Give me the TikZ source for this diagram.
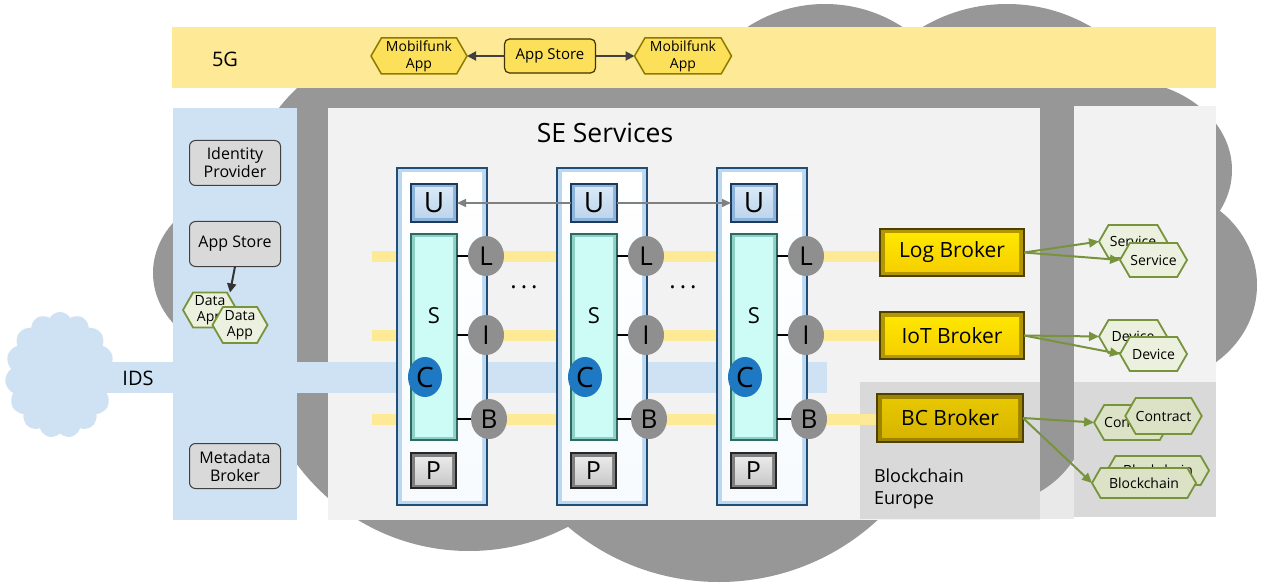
\documentclass[tikz,border=0pt]{standalone}
\usepackage{fontspec}
\setmainfont{Open Sans}
\usetikzlibrary{shapes.geometric,shapes.symbols,arrows.meta}
\definecolor{bandy}{HTML}{FDE996}
\definecolor{ltblue}{HTML}{CFE2F3}
\definecolor{cloudgray}{HTML}{979797}
\definecolor{panel}{HTML}{F2F2F2}
\definecolor{bcgray}{HTML}{D9D9D9}
\definecolor{stripgray}{HTML}{E9E9E9}
\definecolor{hexfill}{HTML}{EBF1DE}
\definecolor{hexfilldk}{HTML}{DCE2C6}
\definecolor{olive}{HTML}{77933C}
\definecolor{gold}{HTML}{FCE05A}
\definecolor{golddk}{HTML}{8C7B00}
\definecolor{boxgray}{HTML}{D9D9D9}
\definecolor{navy}{HTML}{1F4E79}
\definecolor{colout}{HTML}{BDD7EE}
\definecolor{colin}{HTML}{F7FBFE}
\definecolor{uout}{HTML}{8DB4DA}
\definecolor{utop}{HTML}{DCEAF7}
\definecolor{ubot}{HTML}{B9D3EC}
\definecolor{unavy}{HTML}{1B3A5C}
\definecolor{cgreen}{HTML}{2E6B62}
\definecolor{sout}{HTML}{8FD0C6}
\definecolor{cyanfill}{HTML}{CDFBF5}
\definecolor{cblue}{HTML}{1E78C2}
\definecolor{circgray}{HTML}{8F8F8F}
\definecolor{pout}{HTML}{7F7F7F}
\definecolor{ptop}{HTML}{EFEFEF}
\definecolor{pbot}{HTML}{C4C4C4}
\definecolor{brout}{HTML}{B39700}
\definecolor{brtop}{HTML}{FFEA00}
\definecolor{brbot}{HTML}{F5CC00}
\definecolor{bcout}{HTML}{9C8300}
\definecolor{bctop}{HTML}{E9CA00}
\definecolor{bcbot}{HTML}{D6B200}
\definecolor{brdraw}{HTML}{4D4000}
\definecolor{arrgray}{HTML}{404040}
\definecolor{uarr}{HTML}{808080}
\newcommand\fsz[2]{\fontsize{#1pt}{#2pt}\selectfont}
\tikzset{
  bevel/.style n args={3}{path picture={\shade[top color=#1,bottom color=#2]
     ([shift={(#3,-#3)}]path picture bounding box.north west) rectangle
     ([shift={(-#3,#3)}]path picture bounding box.south east);}},
  graybox/.style={draw=black!75, line width=1pt, fill=boxgray, rounded corners=6pt,
     minimum width=91pt, minimum height=45pt, align=center, font=\fsz{16}{18}},
  hexnode/.style={signal, signal to=west and east, signal pointer angle=120,
     draw=olive, line width=1.8pt, fill=hexfill, align=center, font=\fsz{14}{16}},
  goldhex/.style={signal, signal to=west and east, signal pointer angle=120,
     draw=golddk, line width=1.5pt, fill=gold, align=center, font=\fsz{14}{17}},
  colbox/.style={draw=navy, line width=1.3pt, fill=colout, minimum width=90pt,
     minimum height=337pt, bevel={white}{colin}{5pt}},
  ubox/.style={draw=unavy, line width=1.3pt, fill=uout, minimum width=46pt,
     minimum height=38pt, bevel={utop}{ubot}{4pt}, font=\fsz{28}{32}},
  sbar/.style={draw=cgreen, line width=1.5pt, fill=sout, minimum width=46pt,
     minimum height=206pt, bevel={cyanfill}{cyanfill}{4pt}},
  pbox/.style={draw=black!85, line width=1.3pt, fill=pout, minimum width=45pt,
     minimum height=35pt, bevel={ptop}{pbot}{4pt}, font=\fsz{25}{30}},
  gcirc/.style={ellipse, fill=circgray, minimum width=36pt, minimum height=40pt,
     font=\fsz{26}{30}},
  ccirc/.style={ellipse, fill=cblue, minimum width=34pt, minimum height=40pt,
     font=\fsz{28}{32}},
  broker/.style={draw=brdraw, line width=1.3pt, fill=brout, minimum width=144pt,
     minimum height=47pt, bevel={brtop}{brbot}{5pt}, font=\fsz{21}{25}},
  bcbroker/.style={draw=brdraw, line width=1.3pt, fill=bcout, minimum width=146pt,
     minimum height=48pt, bevel={bctop}{bcbot}{5pt}, font=\fsz{21}{25}},
  oarrow/.style={draw=olive, line width=2pt, -{Triangle[length=10pt,width=9pt]}},
  darrow/.style={draw=arrgray, line width=2pt, -{Triangle[length=9pt,width=9pt]}},
  uarrow/.style={draw=uarr, line width=1.5pt, -{Triangle[length=9pt,width=8pt]}},
  ylane/.style={draw=bandy, line width=11pt},
  tie/.style={draw=black, line width=1.3pt},
}
\begin{document}
\begin{tikzpicture}[x=1pt,y=-1pt, every node/.style={inner sep=0pt,outer sep=0pt}]
\useasboundingbox (0,0) rectangle (1261,588);
\fill[white] (0,0) rectangle (1261,588);
% light strip under cloud
\fill[stripgray] (1040,440) rectangle (1074,519);
% big gray cloud
\fill[cloudgray] (297,88) rectangle (1074,440)
  (400,200) circle[radius=152pt]
  (260,273) ellipse[x radius=107pt, y radius=86pt]
  (469,337) circle[radius=214pt]
  (719,348) circle[radius=234pt]
  (990,405) circle[radius=100pt]
  (825,146) circle[radius=142pt]
  (1007,170) circle[radius=166pt]
  (1120,170) ellipse[x radius=112pt, y radius=90pt]
  (1150,285) ellipse[x radius=107pt, y radius=98pt];
% 5G band
\fill[bandy] (172,27) rectangle (1216,88);
% panels
\fill[ltblue] (173,108) rectangle (297,520);
\fill[panel] (328,108) rectangle (1040,520);
\fill[panel] (1074,106) rectangle (1216,517);
\fill[bcgray] (1074,382) rectangle (1216,517);
\fill[bcgray] (860,382) rectangle (1040,519);
% IDS cloud and band
\node[cloud, cloud puffs=15, cloud puff arc=120, fill=ltblue,
      minimum width=110pt, minimum height=126pt] (idscloud) at (60,375) {};
\fill[ltblue] (60,362) rectangle (827,393);
% yellow lanes
\draw[ylane] (372,256) -- (880,256);
\draw[ylane] (372,335) -- (880,335);
\draw[ylane] (372,419) -- (877,419);

% 5G row
\node[font=\fsz{20}{24}] (t5g) at (225,59) {5G};
\node[goldhex, minimum width=96pt, minimum height=36pt] (mf1) at (419,56) {Mobilfunk\\App};
\node[draw=brdraw!80!black, line width=1.2pt, fill=gold, rounded corners=5pt,
      minimum width=91pt, minimum height=34pt, font=\fsz{15}{18}] (as5g) at (550,56) {App Store};
\node[goldhex, minimum width=97pt, minimum height=36pt] (mf2) at (683,56) {Mobilfunk\\App};
\draw[darrow] (as5g.west) -- (mf1.east);
\draw[darrow] (as5g.east) -- (mf2.west);

% left panel
\node[graybox] (idp) at (235,163) {Identity\\Provider};
\node[graybox] (aps) at (235,244) {App Store};
\node[hexnode, minimum width=54pt, minimum height=35pt] (da1) at (210,310) {Data\\App};
\node[hexnode, minimum width=55pt, minimum height=36pt] (da2) at (240,325) {Data\\App};
\draw[darrow, draw=black!80] (aps.south) -- ([xshift=20pt]da1.north);
\node[graybox] (mdb) at (235,466) {Metadata\\Broker};
\node[font=\fsz{20}{24}] (ids) at (138,378) {IDS};

% SE services
\node[font=\fsz{26.5}{30}] (se) at (605,133) {SE Services};

% columns
\foreach \i/\x in {1/397,2/557,3/717}{
  \node[colbox] (col\i) at (\x+45,336.5) {};
  \node[ubox] (u\i) at (\x+37,203) {U};
  \node[sbar] (s\i) at (\x+37,337) {};
  \node[font=\fsz{22}{26}] (sl\i) at (\x+37,316) {S};
  \node[ccirc] (c\i) at (\x+28,377) {C};
  \node[gcirc] (l\i) at (\x+89,256) {L};
  \node[gcirc] (i\i) at (\x+89,335) {I};
  \node[gcirc] (b\i) at (\x+92,419) {B};
  \node[pbox] (p\i) at (\x+36.5,470.5) {P};
  \draw[tie] (s\i.east |- l\i.west) -- (l\i.west);
  \draw[tie] (s\i.east |- i\i.west) -- (i\i.west);
  \draw[tie] (s\i.east |- b\i.west) -- (b\i.west);
}
\node[font=\fsz{24}{28}] (dots1) at (524,287) {.\hspace{4pt}.\hspace{4pt}.};
\node[font=\fsz{24}{28}] (dots2) at (683,287) {.\hspace{4pt}.\hspace{4pt}.};
\draw[uarrow] (u2.west) -- (u1.east);
\draw[uarrow] (u2.east) -- (u3.west);

% brokers
\node[broker] (log) at (952,252.5) {Log Broker};
\node[broker] (iot) at (952,335.5) {IoT Broker};
\node[bcbroker] (bcb) at (950,418) {BC Broker};
\node[anchor=west, align=left, font=\fsz{18}{22}] (bce) at (874,489) {Blockchain\\Europe};

% hexes right
\node[hexnode, minimum width=68pt, minimum height=33pt] (sv1) at (1133,241.5) {Service};
\node[hexnode, minimum width=67pt, minimum height=34pt] (sv2) at (1153.5,260) {Service};
\node[hexnode, minimum width=68pt, minimum height=33pt] (dv1) at (1133,336.5) {Device};
\node[hexnode, minimum width=67pt, minimum height=34pt] (dv2) at (1153.5,354) {Device};
\node[hexnode, fill=hexfilldk, minimum width=70pt, minimum height=35pt] (ct1) at (1132,422.5) {Contract};
\node[hexnode, fill=hexfilldk, minimum width=75pt, minimum height=36pt] (ct2) at (1163.5,416) {Contract};
\node[hexnode, fill=hexfilldk, minimum width=102pt, minimum height=29pt] (bk1) at (1158,470.5) {Blockchain};
\node[hexnode, fill=hexfilldk, minimum width=104pt, minimum height=30pt] (bk2) at (1144,483) {Blockchain};

\draw[oarrow] (log.east) -- (sv1.west);
\draw[oarrow] (log.east) -- (sv2.west);
\draw[oarrow] (iot.east) -- (dv1.west);
\draw[oarrow] (iot.east) -- (dv2.west);
\draw[oarrow] (bcb.east) -- (ct1.west);
\draw[oarrow] (bcb.east) -- (bk2.west);
\end{tikzpicture}
\end{document}
